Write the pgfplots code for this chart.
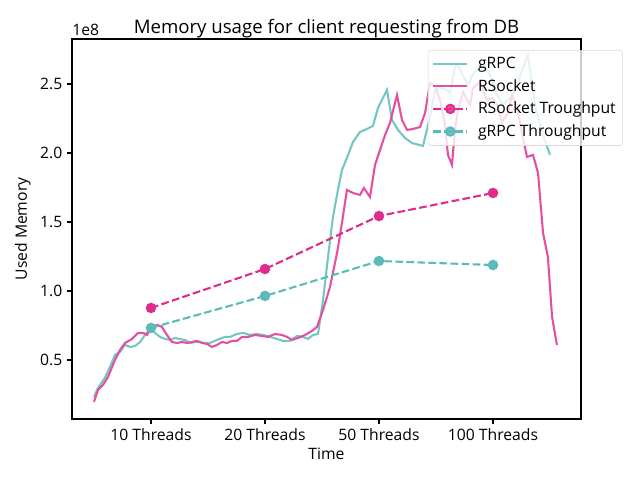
\documentclass[border=0pt]{standalone}
\usepackage{pgfplots}
\pgfplotsset{compat=1.18}
\usepackage{fontspec}
\setmainfont{Open Sans}
\definecolor{tealL}{RGB}{115,198,196}
\definecolor{tealM}{RGB}{90,187,186}
\definecolor{pinkL}{RGB}{228,80,160}
\definecolor{pinkM}{RGB}{221,44,140}
\begin{document}
\begin{tikzpicture}
\path[use as bounding box] (-51.84pt,-43.92pt) rectangle (408.96pt,301.68pt);
\begin{axis}[
  scale only axis, width=366.48pt, height=273.6pt,
  clip mode=individual,
  xmin=-0.693, xmax=3.772, ymin=0.072, ymax=2.826,
  xtick={0,1,2,3}, xticklabels={10 Threads,20 Threads,50 Threads,100 Threads},
  ytick={0.5,1.0,1.5,2.0,2.5}, yticklabels={0.5,1.0,1.5,2.0,2.5},
  tick pos=left, tick align=outside, major tick length=3.5pt,
  tick style={black, line width=0.8pt},
  axis line style={line width=0.8pt},
  ticklabel style={font=\fontsize{11.3}{13}\selectfont},
  /pgf/number format/assume math mode=true,
  xlabel={Time}, ylabel={Used Memory},
  label style={font=\fontsize{11.3}{13}\selectfont},
  xlabel style={yshift=1.5pt},
  title={Memory usage for client requesting from DB},
  title style={font=\fontsize{13.4}{15}\selectfont, at={(0.5,1)}, anchor=base, yshift=-2pt},
  legend style={at={(1.0825,0.971)}, anchor=north east, draw=black!15, rounded corners=2pt,
    fill=white, fill opacity=0.8, text opacity=1, font=\fontsize{11.3}{13}\selectfont,
    row sep=2.2pt, inner sep=3pt, nodes={inner sep=2pt},
    /tikz/every odd column/.append style={column sep=5pt}},
  legend cell align=left,
  legend image code/.code={\draw[mark repeat=2,mark phase=2,#1] plot coordinates {(0cm,0cm)(0.43cm,0cm)(0.86cm,0cm)};},
]
\addplot[tealL, line width=1.5pt, no markers] coordinates {
(-0.500,0.232)(-0.465,0.297)(-0.404,0.370)(-0.360,0.449)(-0.316,0.536)(-0.272,0.558)(-0.228,0.609)(-0.184,0.594)(-0.140,0.601)(-0.096,0.630)(-0.053,0.681)(-0.009,0.725)(0.035,0.696)(0.079,0.667)(0.123,0.652)(0.167,0.645)(0.211,0.659)(0.254,0.652)(0.298,0.645)(0.342,0.623)(0.386,0.630)(0.430,0.630)(0.474,0.623)(0.518,0.623)(0.579,0.645)(0.649,0.667)(0.693,0.667)(0.754,0.688)(0.807,0.696)(0.868,0.681)(0.930,0.688)(0.982,0.681)(1.044,0.667)(1.105,0.652)(1.158,0.638)(1.219,0.638)(1.281,0.674)(1.333,0.667)(1.377,0.652)(1.421,0.681)(1.465,0.688)(1.509,0.935)(1.553,1.246)(1.596,1.536)(1.640,1.732)(1.675,1.877)(1.719,1.964)(1.772,2.080)(1.833,2.152)(1.895,2.174)(1.947,2.196)(1.991,2.326)(2.070,2.457)(2.114,2.239)(2.167,2.167)(2.228,2.109)(2.289,2.072)(2.386,2.051)(2.447,2.261)(2.491,2.457)(2.535,2.471)(2.596,2.457)(2.623,2.435)(2.667,2.623)(2.693,2.638)(2.737,2.558)(2.781,2.493)(2.825,2.572)(2.868,2.616)(2.921,2.638)(2.974,2.565)(3.035,2.420)(3.088,2.348)(3.132,2.384)(3.175,2.420)(3.219,2.514)(3.263,2.616)(3.307,2.710)(3.368,2.348)(3.439,2.130)(3.500,1.986)
};
\addlegendentry{gRPC}
\addplot[pinkL, line width=1.5pt, no markers] coordinates {
(-0.500,0.196)(-0.465,0.283)(-0.421,0.319)(-0.377,0.377)(-0.316,0.500)(-0.272,0.572)(-0.228,0.623)(-0.167,0.652)(-0.114,0.696)(-0.070,0.696)(-0.035,0.681)(-0.009,0.717)(0.053,0.754)(0.096,0.739)(0.140,0.681)(0.184,0.630)(0.228,0.623)(0.272,0.630)(0.316,0.623)(0.360,0.630)(0.404,0.638)(0.447,0.623)(0.491,0.616)(0.535,0.594)(0.579,0.609)(0.623,0.630)(0.667,0.623)(0.711,0.638)(0.754,0.638)(0.798,0.667)(0.851,0.667)(0.912,0.681)(0.974,0.674)(1.026,0.667)(1.088,0.688)(1.149,0.681)(1.193,0.667)(1.237,0.645)(1.289,0.659)(1.351,0.681)(1.412,0.710)(1.456,0.739)(1.500,0.841)(1.544,0.957)(1.570,1.029)(1.632,1.275)(1.675,1.493)(1.719,1.732)(1.772,1.710)(1.833,1.696)(1.868,1.746)(1.921,1.681)(1.965,1.913)(2.009,2.022)(2.053,2.130)(2.096,2.217)(2.158,2.420)(2.202,2.239)(2.246,2.167)(2.298,2.174)(2.360,2.188)(2.404,2.290)(2.447,2.507)(2.491,2.486)(2.535,2.384)(2.579,2.203)(2.605,1.986)(2.640,1.913)(2.667,2.167)(2.693,2.312)(2.737,2.442)(2.798,2.348)(2.825,2.471)(2.886,2.514)(2.947,2.384)(2.991,2.399)(3.035,2.348)(3.079,2.225)(3.123,2.275)(3.167,2.420)(3.219,2.297)(3.263,2.109)(3.298,1.971)(3.351,1.986)(3.395,1.855)(3.439,1.420)(3.482,1.246)(3.518,0.812)(3.561,0.609)
};
\addlegendentry{RSocket}
\addplot[pinkM, line width=1.5pt, dash pattern=on 5.55pt off 2.4pt, mark=*, mark size=3pt, mark options={solid}] coordinates {
(0,0.877)(1,1.159)(2,1.543)(3,1.710)
};
\addlegendentry{RSocket Troughput}
\addplot[tealM, line width=1.5pt, dash pattern=on 5.55pt off 2.4pt, mark=*, mark size=3pt, mark options={solid}] coordinates {
(0,0.732)(1,0.964)(2,1.217)(3,1.188)
};
\addlegendentry{gRPC Throughput}
\node[anchor=south west, font=\fontsize{11.3}{13}\selectfont, inner sep=0pt, yshift=2.5pt] at (rel axis cs:0,1) {1e8};
\end{axis}
\end{tikzpicture}
\end{document}
